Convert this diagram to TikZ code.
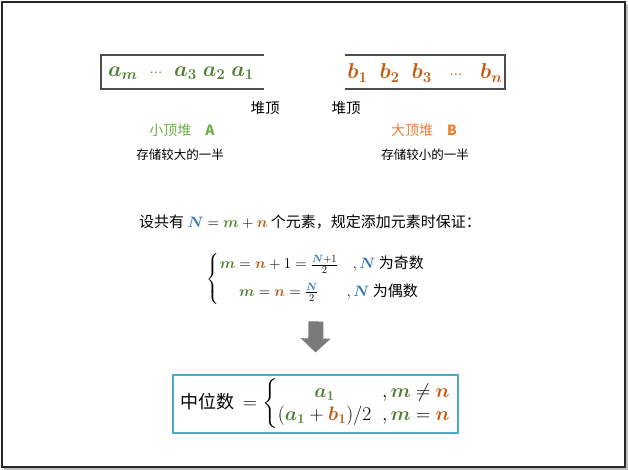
\RequirePackage{fix-cm}
\documentclass[tikz,border=0pt]{standalone}
\usepackage{amsmath,bm}
\usepackage{fontspec}
\setmainfont{Noto Sans CJK SC}
\usetikzlibrary{arrows.meta,positioning}
\definecolor{HeapGreen}{HTML}{538135}
\definecolor{HeapOrange}{HTML}{C55A11}
\definecolor{TagGreen}{HTML}{70AD47}
\definecolor{TagOrange}{HTML}{ED7D31}
\definecolor{CountBlue}{HTML}{2E75B6}
\definecolor{FrameTeal}{HTML}{4BACC6}
\newcommand{\gv}[1]{\textcolor{HeapGreen}{\bm{#1}}}
\newcommand{\ov}[1]{\textcolor{HeapOrange}{\bm{#1}}}
\newcommand{\bv}[1]{\textcolor{CountBlue}{\bm{#1}}}
\tikzset{>=Stealth,every node/.style={font=\fontsize{12.5}{15}\selectfont,inner sep=1pt},
 heapline/.style={draw=black!70,line width=1.3pt},
 heaptext/.style={font=\fontsize{21.5}{24}\selectfont},
 toplabel/.style={font=\fontsize{14.5}{17}\selectfont},
 tagA/.style={text=TagGreen,font=\fontsize{14}{17}\selectfont},
 tagB/.style={text=TagOrange,font=\fontsize{14}{17}\selectfont},
 ruletext/.style={font=\fontsize{15}{18}\selectfont},
 result/.style={draw=FrameTeal,line width=1.1pt,minimum width=285pt,minimum height=58pt,
 font=\fontsize{19.5}{23}\selectfont},
 bigarrow/.style={draw=black!52,line width=15pt,-{Triangle[length=14pt,width=29pt]}}}
\begin{document}
\begin{tikzpicture}[x=1pt,y=-1pt]
\useasboundingbox (0,0) rectangle (628,470);
\draw[black!25,line width=1.5pt] (4,469) -- (627,469) -- (627,4);
\draw[black!85,line width=1.1pt] (2,2) rectangle (625,467);
% heap A
\draw[heapline] (264,55) -| (101,89) -- (264,89);
\node[heaptext] (heapA) at (181,73) {$\gv{a_m}\;\;\textcolor{HeapGreen}{\scriptstyle\cdots}\;\;\gv{a_3}\;\gv{a_2}\;\gv{a_1}$};
% heap B
\draw[heapline] (345,55) -| (505,89) -- (345,89);
\node[heaptext] (heapB) at (425,73) {$\ov{b_1}\;\;\ov{b_2}\;\;\ov{b_3}\;\;\;\textcolor{HeapOrange}{\scriptstyle\cdots}\;\;\;\ov{b_n}$};
\node[toplabel] (topA) at (265,108) {堆顶};
\node[toplabel] (topB) at (346,108) {堆顶};
\node[tagA] (nameA) at (182,130) {小顶堆\quad\textbf{A}};
\node (noteA) at (180,155) {存储较大的一半};
\node[tagB] (nameB) at (424,130) {大顶堆\quad\textbf{B}};
\node (noteB) at (425,155) {存储较小的一半};
% rule
\node[ruletext] (rule) at (310,222) {设共有 $\bv{N}=\gv{m}+\ov{n}$ 个元素，规定添加元素时保证：};
\node[ruletext] (cond) at (316,279) {$\left\{\begin{array}{@{}c@{\quad}l@{}}
 \rule{0pt}{17pt}\gv{m}=\ov{n}+1=\frac{\bv{N}+1}{2} & ,\bv{N}\text{ 为奇数}\\[9pt]
 \gv{m}=\ov{n}=\frac{\bv{N}}{2}\rule[-10pt]{0pt}{10pt} & \hspace{-6pt},\bv{N}\text{ 为偶数}
 \end{array}\right.$};
% median
\node[result] (median) at (315.5,404) {{\fontsize{18}{21}\selectfont 中位数}\;\,$=\left\{\begin{array}{@{}c@{\;\;}l@{}}
 \gv{a_1} & ,\gv{m}\neq\ov{n}\\
 (\gv{a_1}+\ov{b_1})/2 & ,\gv{m}=\ov{n}
 \end{array}\right.$};
\draw[bigarrow] ([yshift=-14pt]cond.south) -- ([yshift=22pt]median.north);
\end{tikzpicture}
\end{document}
